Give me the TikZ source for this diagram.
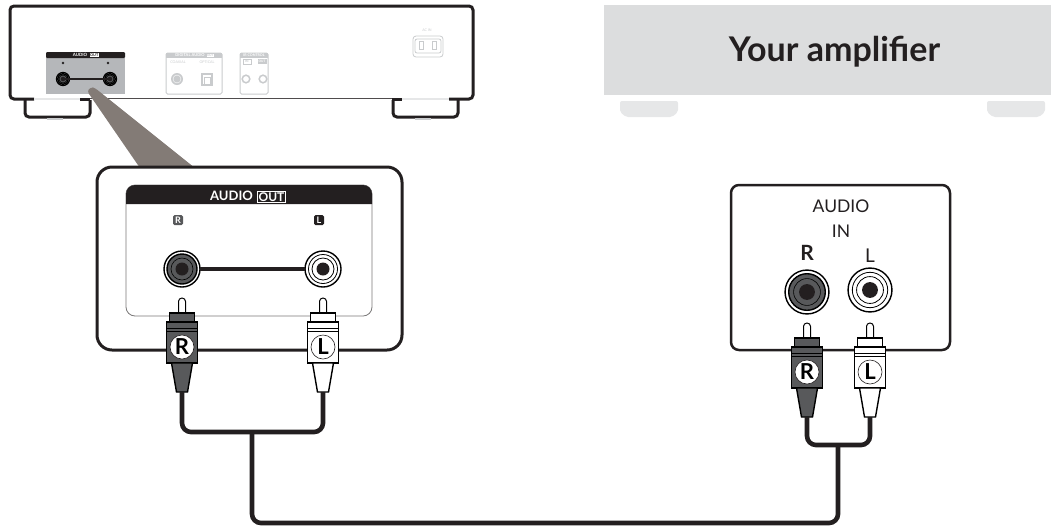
\documentclass[tikz,border=0pt]{standalone}
\usepackage{fontspec}
\setmainfont{Lato}
\usepackage{xcolor}
\usepackage{tikz}
\usetikzlibrary{shapes,arrows,positioning,calc}
\definecolor{plugdark}{HTML}{58595B}
\definecolor{ampgrey}{HTML}{DCDDDE}
\definecolor{footgrey}{HTML}{E6E7E8}
\definecolor{panelgrey}{HTML}{B5B7BA}
\definecolor{faintgrey}{HTML}{C9CBCD}
\definecolor{pointergrey}{HTML}{837B76}
\definecolor{ink}{HTML}{231F20}
\newcommand{\fsize}[1]{\fontsize{#1}{#1}\selectfont}

\begin{document}
\begin{tikzpicture}[
    x=1pt, y=-1pt,
    bodyline/.style={draw=ink, line width=3pt, rounded corners=4pt},
    faintbox/.style={draw=faintgrey, line width=1pt, fill=white, rounded corners=1.5pt},
    cable/.style={draw=ink, line width=4.6pt, rounded corners=9pt},
    tinytext/.style={text=faintgrey, inner sep=0pt, font=\fsize{3.6}},
    boxtext/.style={text=ink, inner sep=0pt},
    tag/.style={fill=#1, text=white, minimum size=10pt, inner sep=0pt, rounded corners=1.5pt, font=\fsize{9}\bfseries},
    pics/plug/.style n args={2}{code={
        \draw[line width=1pt, fill=white, rounded corners=3.4pt] (-3.5,16) -- (-3.5,0) -- (3.5,0) -- (3.5,16);
        \draw[line width=1.4pt, fill=#1] (-12.5,15) rectangle (12.5,24);
        \draw[line width=1.4pt, fill=#1] (-15.5,24) rectangle (15.5,65);
        \draw[line width=.6pt] (-15.5,30) -- (15.5,30);
        \draw[line width=.6pt] (-15.5,33) -- (15.5,33);
        \draw[line width=1.4pt, fill=#1] (-10.5,65) -- (10.5,65) -- (5.5,94) -- (-5.5,94) -- cycle;
        \node[circle, draw=ink, line width=.6pt, fill=white, minimum size=24pt, inner sep=0pt, font=\fsize{22}\bfseries] (-badge) at (0,49) {#2};
        \coordinate (-tail) at (0,94);
    }},
    pics/jackdark/.style={code={
        \draw[line width=1.4pt, fill=white] (0,0) circle (18);
        \draw[line width=1.4pt, fill=plugdark] (0,0) circle (15);
        \draw[line width=.6pt] (0,0) circle (11);
        \fill[ink] (0,0) circle (6.5);
    }},
    pics/jacklight/.style={code={
        \draw[line width=1.4pt, fill=white] (0,0) circle (18);
        \draw[line width=.8pt] (0,0) circle (14.5);
        \draw[line width=.8pt] (0,0) circle (11);
        \fill[ink] (0,0) circle (6.5);
    }}
]

\useasboundingbox (0,0) rectangle (1051,531);

\draw[bodyline] (34,99) -- (10,99) -- (10,6) -- (473,6) -- (473,99) -- (449,99);
\draw[draw=ink, line width=3pt] (80,99) -- (90,99);
\draw[draw=ink, line width=3pt] (392,99) -- (402,99);
\draw[draw=ink!80, line width=1.8pt] (90,98.5) -- (392,98.5);
\draw[draw=footgrey, line width=1.5pt] (34,99) -- (80,99);
\draw[draw=footgrey, line width=1.5pt] (402,99) -- (449,99);
\foreach \footx in {25,393} {
    \draw[bodyline] (\footx,100) -- (\footx,117) -- (\footx+65,117) -- (\footx+65,100);
    \draw[draw=faintgrey, line width=1.2pt] (\footx+22,119) -- (\footx+38,119);
}

\fill[panelgrey] (46,58) rectangle (125,94);
\fill[ink, rounded corners=1pt] (46,52) rectangle (125,58);
\node[text=white, inner sep=0pt, font=\fsize{4.4}\bfseries] (smallaudio) at (80,55) {AUDIO};
\node[fill=white, text=ink, inner sep=.5pt, right=2pt of smallaudio, font=\fsize{3.8}\bfseries] (smallout) {OUT};
\fill[ink] (63,63) circle (1.4);
\fill[ink] (108,63) circle (1.4);
\pic[scale=.36] (smallr) at (63,79) {jackdark};
\pic[scale=.36] (smalll) at (110,79) {jackdark};
\draw[draw=ink, line width=1.2pt] (63,79) -- (110,79);

\draw[faintbox] (166,53) rectangle (222,94);
\fill[faintgrey] (166,53) rectangle (222,58);
\node[text=white, inner sep=0pt, font=\fsize{4}\bfseries] (digital) at (190,55.5) {DIGITAL AUDIO};
\node[fill=white, text=faintgrey, inner sep=.4pt, right=1.5pt of digital, font=\fsize{3}\bfseries] (digitalout) {OUT};
\node[tinytext] (coaxial) at (178,62) {COAXIAL};
\node[tinytext] (optical) at (207,62) {OPTICAL};
\fill[faintgrey] (177,79) circle (6);
\draw[draw=white, line width=.4pt] (177,79) circle (4);
\draw[draw=faintgrey, line width=1.2pt] (202,74) rectangle (212,85);
\draw[draw=faintgrey, line width=.8pt] (204,84) -- (204,77) -- (210,77) -- (210,84);

\draw[faintbox] (240,53) rectangle (268,94);
\fill[faintgrey] (240,53) rectangle (268,58);
\node[text=white, inner sep=0pt, font=\fsize{3.6}\bfseries] (ircontrol) at (254,55.5) {IR CONTROL};
\node[draw=faintgrey, text=faintgrey, minimum width=8pt, minimum height=5pt, inner sep=0pt, font=\fsize{3.2}\bfseries] (irin) at (247,61.5) {IN};
\node[fill=faintgrey, text=white, minimum width=9pt, minimum height=5pt, inner sep=0pt, font=\fsize{3.2}\bfseries] (irout) at (262,61.5) {OUT};
\draw[draw=faintgrey, line width=1.5pt] (246,79) circle (3.8);
\draw[draw=faintgrey, line width=1.5pt] (263,79) circle (3.8);

\node[tinytext] (acin) at (427,30) {AC IN};
\draw[draw=faintgrey, line width=.8pt, rounded corners=3pt] (413,36) rectangle (443,57);
\draw[draw=faintgrey, line width=.8pt, rounded corners=2pt] (415,39) rectangle (441,53);
\draw[draw=faintgrey, line width=1pt] (419,41) rectangle (423,49);
\draw[draw=faintgrey, line width=1pt] (432,41) rectangle (436,49);

\fill[pointergrey, rounded corners=3pt] (87,91) -- (91,87) -- (95,88) -- (195,168) -- (140,168) -- cycle;

\draw[draw=ink, line width=3pt, fill=white, rounded corners=15pt] (97,167) rectangle (402,350);
\draw[draw=ink!60, line width=.8pt, fill=white, rounded corners=9pt] (126,185) rectangle (372,316);
\fill[ink] (126,204) [rounded corners=9pt] -- (126,185) -- (372,185) [sharp corners] -- (372,204) -- cycle;
\node[text=white, inner sep=0pt, font=\fsize{13}\bfseries] (outaudio) at (231.5,196) {AUDIO};
\node[draw=white, line width=.8pt, text=white, inner sep=1.2pt, font=\fsize{12}\bfseries] (outword) at (271.5,197) {OUT};
\node[tag=plugdark] (outtagr) at (178,220) {R};
\node[tag=ink] (outtagl) at (319,220) {L};

\pic (outjackr) at (182,269) {jackdark};
\pic (outjackl) at (323,269) {jacklight};
\draw[draw=ink, line width=3.2pt] (200,269) -- (305,269);

\draw[draw=ink, line width=2.5pt, fill=white, rounded corners=8pt] (731,185) rectangle (950,350);
\node[boxtext, font=\fsize{17.5}] (inaudio) at (841,206) {AUDIO};
\node[boxtext, font=\fsize{17.5}] (inword) at (841,231) {IN};
\node[boxtext, font=\fsize{21}\bfseries] (inlabelr) at (807,253) {R};
\node[boxtext, font=\fsize{19}] (inlabell) at (870,256) {L};
\pic[scale=1.22] (injackr) at (807,292) {jackdark};
\pic[scale=1.22] (injackl) at (870,290) {jacklight};

\pic (outplugr) at (182,298) {plug={plugdark}{R}};
\pic (outplugl) at (323,298) {plug={white}{L}};
\pic (inplugr) at (807,323) {plug={plugdark}{R}};
\pic (inplugl) at (870,323) {plug={white}{L}};

\coordinate (outjoin) at (252,432);
\coordinate (injoin) at (838,445);
\coordinate (lowrun) at (545,523);
\draw[cable] (outplugr-tail) |- (outjoin) -| (outplugl-tail);
\draw[cable] (inplugr-tail) |- (injoin) -| (inplugl-tail);
\draw[cable] (outjoin) |- (lowrun) -| (injoin);

\fill[ampgrey] (604,5) rectangle (1051,95);
\node[text=ink, inner sep=0pt, font=\fsize{34}\bfseries] (amplabel) at (834.5,52) {Your amplifier};
\fill[footgrey, rounded corners=2pt] (620,101) -- (678,101) -- (678,112) -- (672,117) -- (626,117) -- (620,112) -- cycle;
\fill[footgrey, rounded corners=2pt] (987,101) -- (1045,101) -- (1045,112) -- (1039,117) -- (993,117) -- (987,112) -- cycle;

\end{tikzpicture}
\end{document}
